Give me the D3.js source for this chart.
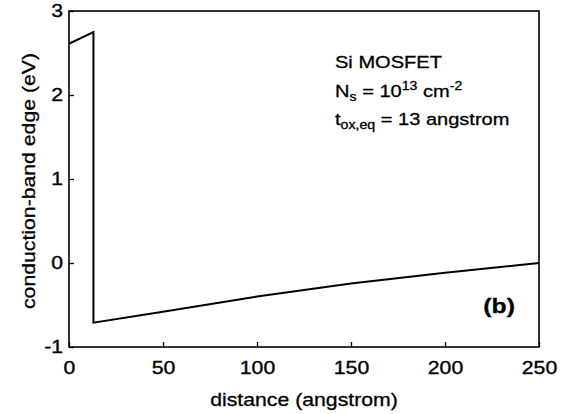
<!DOCTYPE html>
<html>
<head>
<meta charset="utf-8">
<script src="https://cdn.jsdelivr.net/npm/d3@7"></script>
<style>
  body { margin: 0; background: #fff; }
  text { font-family: "Liberation Sans", Arial, Helvetica, sans-serif; fill: #000; }
</style>
</head>
<body>
<script>
// Data
const distance = [0, 13, 13, 50, 100, 150, 200, 250];
const bandEdge = [2.61, 2.75, -0.71, -0.58, -0.40, -0.245, -0.115, 0.0];
const xTicks = [0, 50, 100, 150, 200, 250];
const yTicks = [-1, 0, 1, 2, 3];

// Define dimensions and margins for the chart
const margin = { top: 11, right: 27, bottom: 67, left: 69 };
const width = 566 - margin.left - margin.right;
const height = 414 - margin.top - margin.bottom;
const stretch = 1.18; // the source lettering is wider than Arial

const svg = d3.select("body")
  .append("svg")
  .attr("width", 566)
  .attr("height", 414)
  .append("g")
  .attr("transform", "translate(" + margin.left + "," + margin.top + ")");

// Create scales
const xScale = d3.scaleLinear().domain([0, 250]).range([0, width]);
const yScale = d3.scaleLinear().domain([-1, 3]).range([height, 0]);

// Axes with inward ticks
const xAxis = svg.append("g")
  .attr("transform", "translate(0," + height + ")")
  .call(d3.axisBottom(xScale).tickValues(xTicks).tickSizeInner(-5).tickSizeOuter(0).tickPadding(14));

const yAxis = svg.append("g")
  .call(d3.axisLeft(yScale).tickValues(yTicks).tickSizeInner(-5).tickSizeOuter(0).tickPadding(6)
    .tickFormat(d => String(d)));

[xAxis, yAxis].forEach(ax => {
  ax.select(".domain").remove();
  ax.selectAll(".tick line").attr("stroke", "#000").attr("stroke-width", 1.3);
  ax.selectAll(".tick text")
    .style("font-size", "18px")
    .attr("stroke", "#000")
    .attr("stroke-width", 0.35)
    .attr("transform", "scale(" + stretch + ",1)");
});
yAxis.selectAll(".tick text").attr("x", -6 / stretch);

// Frame
svg.append("rect")
  .attr("x", 0)
  .attr("y", 0)
  .attr("width", width)
  .attr("height", height)
  .attr("fill", "none")
  .attr("stroke", "#000")
  .attr("stroke-width", 1.6);

// Conduction-band edge
const line = d3.line()
  .x((d, i) => xScale(distance[i]))
  .y((d, i) => yScale(bandEdge[i]));

svg.append("path")
  .datum(bandEdge)
  .attr("d", line)
  .attr("fill", "none")
  .attr("stroke", "#000")
  .attr("stroke-width", 2)
  .attr("stroke-linejoin", "miter");

// Helper for stretched text
function label(x, y, size, rotate) {
  return svg.append("text")
    .attr("transform", "translate(" + x + "," + y + ")" + (rotate ? " rotate(-90)" : "") + " scale(" + stretch + ",1)")
    .style("font-size", size + "px")
    .attr("stroke", "#000")
    .attr("stroke-width", 0.3);
}

// Axis titles
label(width / 2, 406 - margin.top, 18).attr("text-anchor", "middle").text("distance (angstrom)");
label(35 - margin.left, 181 - margin.top, 18, true).attr("text-anchor", "middle").text("conduction-band edge (eV)");

// Annotation
const ax0 = 335 - margin.left;
label(ax0, 68 - margin.top, 17).text("Si MOSFET");

const ns = label(ax0, 97 - margin.top, 17);
ns.append("tspan").text("N");
ns.append("tspan").attr("dy", 4).style("font-size", "12px").text("s");
ns.append("tspan").attr("dy", -4).text(" = 10");
ns.append("tspan").attr("dy", -7).style("font-size", "12px").text("13");
ns.append("tspan").attr("dy", 7).text(" cm");
ns.append("tspan").attr("dy", -7).style("font-size", "12px").text("-2");

const tox = label(ax0, 125 - margin.top, 17);
tox.append("tspan").text("t");
tox.append("tspan").attr("dy", 4).style("font-size", "12px").text("ox,eq");
tox.append("tspan").attr("dy", -4).text(" = 13 angstrom");

label(515 - margin.left, 313 - margin.top, 21)
  .attr("text-anchor", "end")
  .style("font-weight", "bold")
  .text("(b)");
</script>
</body>
</html>
